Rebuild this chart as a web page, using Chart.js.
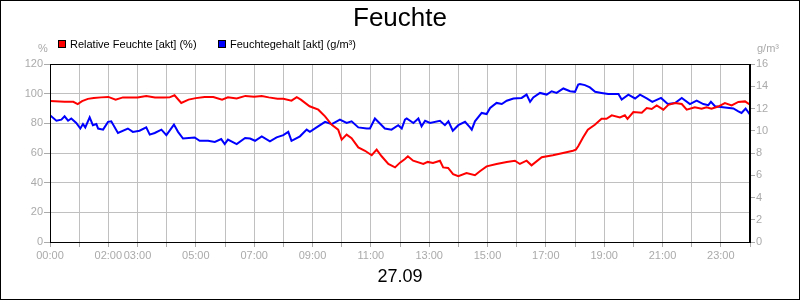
<!DOCTYPE html>
<html>
<head>
<meta charset="utf-8">
<script src="https://cdn.jsdelivr.net/npm/chart.js@4.4.1/dist/chart.umd.min.js"></script>
<style>
  html, body { margin: 0; padding: 0; background: #fff; }
  #wrap { width: 800px; height: 300px; }
</style>
</head>
<body>
<div id="wrap"><canvas id="myChart" width="800" height="300"></canvas></div>
<script>
const redHours = [0, 0.5, 0.8, 0.95, 1.1, 1.3, 1.5, 1.75, 2, 2.25, 2.5, 2.75, 3, 3.3, 3.6, 3.9, 4.1, 4.27, 4.5, 4.75,
  5, 5.3, 5.6, 5.9, 6.1, 6.4, 6.7, 7, 7.26, 7.5, 7.8, 8, 8.28, 8.46, 8.6, 8.9, 9.2, 9.43, 9.66, 9.88,
  10, 10.17, 10.34, 10.57, 10.8, 11.03, 11.2, 11.37, 11.6, 11.83, 12, 12.17, 12.27, 12.45, 12.8, 12.95, 13.13, 13.37, 13.48, 13.65,
  13.82, 14, 14.28, 14.57, 14.74, 14.97, 15.31, 15.66, 15.94, 16.11, 16.34, 16.51, 16.86, 17.24, 17.59, 17.93, 18.03, 18.11, 18.28, 18.44,
  18.68, 18.91, 19.08, 19.26, 19.54, 19.71, 19.8, 20, 20.29, 20.46, 20.63, 20.8, 21.03, 21.2, 21.43, 21.66, 21.83, 22.11, 22.34, 22.51,
  22.68, 22.91, 23.14, 23.37, 23.6, 23.83, 24];
const redValues = [95, 94.5, 94.5, 93, 95, 96.5, 97, 97.5, 97.8, 96, 97.5, 97.5, 97.5, 98.4, 97.4, 97.4, 97.5, 98.9, 93.7, 96,
  97, 97.8, 97.8, 96, 97.5, 96.7, 98.5, 98, 98.4, 97.5, 96.6, 96.6, 95.3, 97.6, 96, 91.5, 89.2, 84.7, 79, 75.7,
  69, 72.4, 70, 63.8, 61.5, 58.5, 62.3, 57.8, 52.6, 50.3, 53.5, 56, 57.8, 54.8, 52.6, 54, 53.3, 54.8, 50.3, 49.9,
  45.8, 44.3, 46.5, 45, 47.7, 51, 52.6, 54, 54.8, 52.6, 54.8, 51.7, 57.1, 58.5, 60, 61.5, 62.3, 64.5, 70.6, 75.7,
  79, 83.1, 83.1, 85.4, 84, 85.4, 83, 87.6, 87.2, 90.3, 89.7, 92.1, 89.2, 92.5, 93.7, 93, 89.2, 90.8, 89.8, 90.8,
  89.8, 91.3, 93.7, 92.1, 94.4, 94.8, 92.5];

const blueHours = [0, 0.22, 0.39, 0.5, 0.62, 0.73, 0.9, 1.04, 1.13, 1.21, 1.36, 1.47, 1.59, 1.65, 1.82, 1.99, 2.1, 2.33, 2.67, 2.84,
  3.07, 3.3, 3.42, 3.59, 3.82, 3.99, 4.25, 4.39, 4.56, 4.96, 5.13, 5.42, 5.65, 5.87, 5.99, 6.1, 6.4, 6.69, 6.86, 7.03,
  7.26, 7.54, 7.77, 8, 8.17, 8.28, 8.57, 8.8, 8.91, 9.14, 9.43, 9.66, 9.94, 10.17, 10.34, 10.57, 10.86, 10.97, 11.14, 11.37,
  11.48, 11.71, 11.94, 12.06, 12.17, 12.23, 12.46, 12.63, 12.74, 12.86, 13.03, 13.37, 13.54, 13.66, 13.81, 14, 14.23, 14.4, 14.46, 14.57,
  14.8, 14.97, 15.09, 15.31, 15.49, 15.66, 15.89, 16.17, 16.34, 16.46, 16.57, 16.8, 17.03, 17.2, 17.37, 17.6, 17.83, 18, 18.11, 18.17,
  18.34, 18.51, 18.69, 18.91, 19.14, 19.49, 19.6, 19.83, 20.06, 20.23, 20.46, 20.65, 20.95, 21.18, 21.43, 21.66, 21.94, 22.17, 22.4, 22.57,
  22.66, 22.8, 23.14, 23.43, 23.6, 23.71, 23.85, 24];
const blueValues = [11.4, 10.9, 11.0, 11.3, 10.9, 11.1, 10.7, 10.2, 10.6, 10.3, 11.2, 10.5, 10.6, 10.2, 10.1, 10.8, 10.85, 9.8, 10.2, 9.9,
  10.0, 10.3, 9.65, 9.8, 10.1, 9.6, 10.55, 9.9, 9.3, 9.4, 9.1, 9.1, 9.0, 9.25, 8.8, 9.2, 8.8, 9.35, 9.3, 9.1,
  9.5, 9.05, 9.4, 9.6, 9.9, 9.1, 9.5, 10.1, 9.9, 10.3, 10.8, 10.6, 11.0, 10.7, 10.85, 10.3, 10.2, 10.2, 11.1, 10.5,
  10.2, 10.1, 10.5, 10.2, 11.0, 11.1, 10.7, 11.1, 10.4, 10.9, 10.7, 10.9, 10.5, 10.85, 10.0, 10.5, 10.8, 10.3, 10.1, 10.85,
  11.6, 11.5, 12.05, 12.5, 12.4, 12.7, 12.9, 12.95, 13.25, 12.6, 13.0, 13.4, 13.25, 13.55, 13.4, 13.8, 13.55, 13.5, 14.15, 14.2,
  14.1, 13.9, 13.5, 13.4, 13.3, 13.3, 12.8, 13.25, 12.9, 13.25, 12.9, 12.6, 12.95, 12.4, 12.5, 12.95, 12.4, 12.7, 12.4, 12.3,
  12.6, 12.2, 12.1, 12.0, 11.75, 11.6, 12.0, 11.45];

const xLabelHours = [0, 2, 3, 5, 7, 9, 11, 13, 15, 17, 19, 21, 23];
const leftTicks = [0, 20, 40, 60, 80, 100, 120];
const rightTicks = [0, 2, 4, 6, 8, 10, 12, 14, 16];

const gray = '#aaaaaa';
const gridGray = '#c0c0c0';
const fontFamily = '"Liberation Sans", Arial, sans-serif';

const pairs = (xs, ys) => xs.map((x, i) => ({ x, y: ys[i] }));
const hh = h => String(h).padStart(2, '0') + ':00';

const framePlugin = {
  id: 'framePlugin',
  beforeDraw(chart) {
    const ctx = chart.ctx;
    ctx.save();
    ctx.fillStyle = '#fff';
    ctx.fillRect(0, 0, chart.width, chart.height);
    ctx.restore();
  },
  afterDraw(chart) {
    const { ctx, chartArea: a } = chart;
    ctx.save();
    ctx.strokeStyle = '#000';
    ctx.lineWidth = 1;
    ctx.strokeRect(Math.round(a.left) + 0.5, Math.round(a.top) + 0.5,
      Math.round(a.right - a.left) - 1, Math.round(a.bottom - a.top));
    ctx.strokeRect(0.5, 0.5, chart.width - 1, chart.height - 1);

    // unit labels
    ctx.fillStyle = gray;
    ctx.font = '11px ' + fontFamily;
    ctx.textAlign = 'center';
    ctx.textBaseline = 'middle';
    ctx.fillText('%', a.left - 7, a.top - 15);
    ctx.fillText('g/m³', a.right + 18, a.top - 15);

    // legend
    const boxX = [58, 218];
    ctx.textAlign = 'left';
    chart.data.datasets.forEach((ds, i) => {
      ctx.fillStyle = ds.borderColor;
      ctx.fillRect(boxX[i], 40, 8, 8);
      ctx.strokeStyle = '#000';
      ctx.strokeRect(boxX[i] + 0.5, 40.5, 7, 7);
      ctx.fillStyle = '#000';
      ctx.fillText(ds.label, boxX[i] + 12, 44.5);
    });
    ctx.restore();
  }
};

const ctx = document.getElementById('myChart').getContext('2d');

new Chart(ctx, {
  type: 'line',
  data: {
    datasets: [
      {
        label: 'Relative Feuchte [akt] (%)',
        data: pairs(redHours, redValues),
        borderColor: '#ff0000',
        backgroundColor: '#ff0000',
        borderWidth: 2,
        pointRadius: 0,
        tension: 0,
        yAxisID: 'y'
      },
      {
        label: 'Feuchtegehalt [akt] (g/m³)',
        data: pairs(blueHours, blueValues),
        borderColor: '#0000ff',
        backgroundColor: '#0000ff',
        borderWidth: 2,
        pointRadius: 0,
        tension: 0,
        yAxisID: 'y1'
      }
    ]
  },
  options: {
    responsive: false,
    animation: false,
    layout: { padding: 0 },
    plugins: {
      legend: { display: false },
      tooltip: { enabled: false },
      title: {
        display: true,
        text: 'Feuchte',
        color: '#000',
        font: { family: fontFamily, size: 26, weight: 'normal' },
        padding: { top: 3, bottom: 29.8 }
      }
    },
    scales: {
      x: {
        type: 'linear',
        min: 0,
        max: 24,
        afterFit: s => { s.height = 58; },
        afterBuildTicks: s => { s.ticks = Array.from({ length: 25 }, (_, i) => ({ value: i })); },
        ticks: {
          autoSkip: false,
          maxRotation: 0,
          padding: 2,
          color: gray,
          font: { family: fontFamily, size: 11 },
          callback: v => xLabelHours.includes(v) ? hh(v) : ''
        },
        grid: { color: gridGray, tickColor: gray, tickLength: 5 },
        border: { color: '#000', width: 1 },
        title: {
          display: true,
          text: '27.09',
          color: '#000',
          font: { family: fontFamily, size: 18 },
          padding: { top: 0, bottom: 12 }
        }
      },
      y: {
        position: 'left',
        min: 0,
        max: 120,
        afterFit: s => { s.width = 50; },
        afterBuildTicks: s => { s.ticks = leftTicks.map(v => ({ value: v })); },
        ticks: { color: gray, padding: 1, font: { family: fontFamily, size: 11 } },
        grid: { color: gridGray, tickColor: gray, tickLength: 6 },
        border: { color: '#000', width: 1 }
      },
      y1: {
        position: 'right',
        min: 0,
        max: 16,
        afterFit: s => { s.width = 50; },
        afterBuildTicks: s => { s.ticks = rightTicks.map(v => ({ value: v })); },
        ticks: { color: gray, padding: 1, font: { family: fontFamily, size: 11 } },
        grid: { drawOnChartArea: false, tickColor: gray, tickLength: 5 },
        border: { color: '#000', width: 1 }
      }
    }
  },
  plugins: [framePlugin]
});
</script>
</body>
</html>
